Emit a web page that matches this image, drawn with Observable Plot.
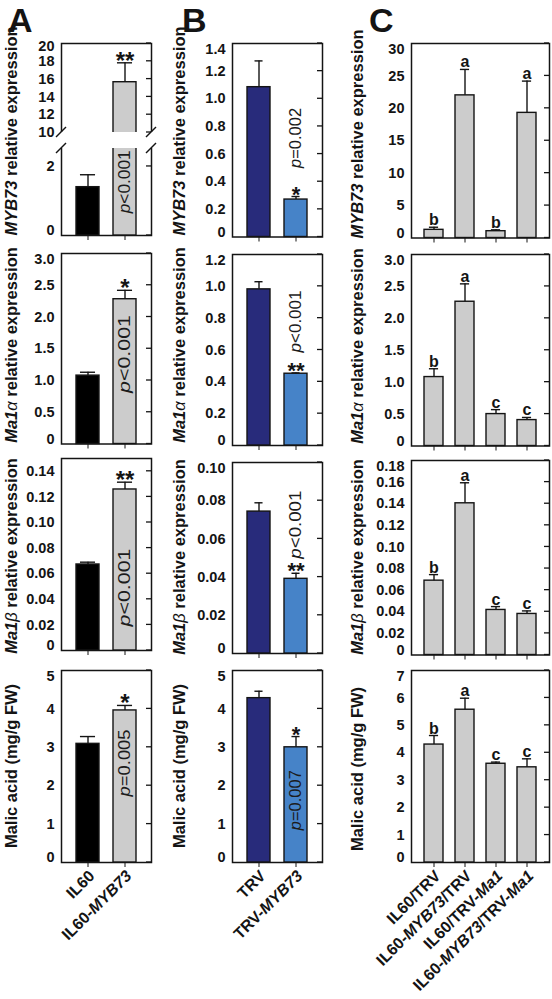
<!DOCTYPE html>
<html><head><meta charset="utf-8">
<script src="https://cdn.jsdelivr.net/npm/d3@7"></script>
<script src="https://cdn.jsdelivr.net/npm/@observablehq/plot@0.6"></script>
<style>
html,body{margin:0;padding:0;background:#fff;}
#fig{position:relative;width:552px;height:999px;overflow:hidden;background:#fff;}
#fig svg{position:absolute;}
</style></head><body><div id="fig"></div>
<script>
// ---------------- data ----------------
const groupsA = ["IL60", "IL60-MYB73"];
const groupsB = ["TRV", "TRV-MYB73"];
const groupsC = ["IL60/TRV", "IL60-MYB73/TRV", "IL60/TRV-Ma1", "IL60-MYB73/TRV-Ma1"];

const colorsA = ["#000000", "#cccccc"];
const colorsB = ["#282b7b", "#4683c8"];
const colorsC = ["#cccccc", "#cccccc", "#cccccc", "#cccccc"];

// column A (IL60 vs IL60-MYB73)
const myb73A = [1.40, 15.65],   myb73AErr = [0.36, 2.18];
const ma1aA  = [1.077, 2.28],   ma1aAErr  = [0.053, 0.14];
const ma1bA  = [0.0672, 0.1258], ma1bAErr = [0.0018, 0.0057];
const malicA = [3.09, 3.96],    malicAErr = [0.19, 0.13];
const starsA = [["", "**"], ["", "*"], ["", "**"], ["", "*"]];
const pTextA = ["p<0.001", "p<0.001", "p<0.001", "p=0.005"];
const pPosA  = [1.54, 1.41, 0.0488, 2.58];
const pLenA  = [63, 78, 78, 67];

// column B (TRV vs TRV-MYB73)
const myb73B = [1.084, 0.271],  myb73BErr = [0.19, 0.022];
const ma1aB  = [0.981, 0.451],  ma1aBErr  = [0.048, 0.005];
const ma1bB  = [0.0743, 0.0391], ma1bBErr = [0.0046, 0.0029];
const malicB = [4.28, 3.00],    malicBErr = [0.18, 0.28];
const starsB = [["", "*"], ["", "**"], ["", "**"], ["", "*"]];
const pTextB = ["p=0.002", "p<0.001", "p<0.001", "p=0.007"];
const pPosB  = [0.713, 0.776, 0.0672, 1.61];
const pLenB  = [60, 62, 68, 60];

// column C (four combinations)
const myb73C = [1.26, 22.0, 1.05, 19.3],        myb73CErr = [0.40, 4.0, 0.21, 4.9];
const ma1aC  = [1.08, 2.26, 0.50, 0.406],       ma1aCErr  = [0.13, 0.28, 0.07, 0.041];
const ma1bC  = [0.0688, 0.1404, 0.0417, 0.038], ma1bCErr  = [0.0056, 0.019, 0.0031, 0.0028];
const malicC = [4.30, 5.57, 3.60, 3.47],        malicCErr = [0.33, 0.42, 0.06, 0.31];
const lettersC = [["b", "a", "b", "a"], ["b", "a", "c", "c"], ["b", "a", "c", "c"], ["b", "a", "c", "c"]];

// y ticks
const ticksA1 = [0, 2, 10, 12, 14, 16, 18, 20];
const ticksA2 = [0, 0.5, 1, 1.5, 2, 2.5, 3];
const ticksA3 = [0, 0.02, 0.04, 0.06, 0.08, 0.10, 0.12, 0.14];
const ticksA4 = [0, 1, 2, 3, 4, 5];
const ticksB1 = [0, 0.2, 0.4, 0.6, 0.8, 1.0, 1.2, 1.4];
const ticksB2 = [0, 0.2, 0.4, 0.6, 0.8, 1.0, 1.2];
const ticksB3 = [0, 0.02, 0.04, 0.06, 0.08, 0.10];
const ticksB4 = [0, 1, 2, 3, 4, 5];
const ticksC1 = [0, 5, 10, 15, 20, 25, 30];
const ticksC2 = [0, 0.5, 1, 1.5, 2, 2.5, 3];
const ticksC3 = [0, 0.02, 0.04, 0.06, 0.08, 0.10, 0.12, 0.14, 0.16, 0.18];
const ticksC4 = [0, 1, 2, 3, 4, 5, 6, 7];
const decimals = {A: [0, 1, 2, 0], B: [1, 1, 2, 0], C: [0, 1, 2, 0]};

// broken axis of panel A1: lower segment ends at 2.52, upper starts at 10
const breakA1 = [2.52, 10];

const yLabels = ["MYB73 relative expression", "Ma1α relative expression", "Ma1β relative expression", "Malic acid (mg/g FW)"];
const panelLetters = ["A", "B", "C"];

// ---------------- layout ----------------
const FONT = "'Liberation Sans', Arial, Helvetica, sans-serif";
const INK = "#141414";
const ML = 50, MR = 6, MT = 6, MB = 6;
const fig = document.getElementById("fig");

function italicParts(s) {
  return s.split(/(MYB73|Ma1|α|β)/).filter(t => t).map(t => ({
    t, italic: /^(MYB73|Ma1|α|β)$/.test(t), normal: t === "α" || t === "β"
  }));
}
function bandCenter(scales, c) {
  const x = scales.x;
  const bw = x.bandwidth ? x.bandwidth() : 0;
  return x(c) + bw / 2;
}
function rightTicks(ticks) {
  return (index, scales, values, dims) => {
    const g = d3.create("svg:g").attr("stroke", INK).attr("stroke-width", 1.3);
    const x0 = dims.width - dims.marginRight;
    for (const t of ticks) {
      const y = scales.y(t);
      g.append("line").attr("x1", x0).attr("x2", x0 - 5).attr("y1", y).attr("y2", y);
    }
    return g.node();
  };
}
function pLabel(cat, yv, text, len) {
  return (index, scales) => {
    const x = bandCenter(scales, cat), y = scales.y(yv);
    const t = d3.create("svg:text")
      .attr("transform", `translate(${x},${y}) rotate(-90)`)
      .attr("text-anchor", "middle").attr("dy", "0.35em")
      .attr("font-size", 16.5).attr("font-weight", "normal").attr("fill", "#1c1c1c")
      .attr("textLength", len).attr("lengthAdjust", "spacingAndGlyphs");
    t.append("tspan").attr("font-style", "italic").text(text[0]);
    t.append("tspan").text(text.slice(1));
    return t.node();
  };
}
function xLabels(cats) {
  return (index, scales, values, dims) => {
    const g = d3.create("svg:g").attr("font-size", 16).attr("font-weight", "bold").attr("text-anchor", "end").attr("fill", INK);
    const yb = dims.height - dims.marginBottom;
    for (const c of cats) {
      const x = bandCenter(scales, c) + 4;
      const t = g.append("text").attr("transform", `translate(${x},${yb + 11}) rotate(-45)`).attr("dy", "0.35em");
      for (const p of italicParts(c)) t.append("tspan").attr("font-style", p.italic ? "italic" : null).text(p.t);
    }
    return g.node();
  };
}
function breakMarks(levels) {
  return (index, scales, values, dims) => {
    const g = d3.create("svg:g").attr("stroke", INK).attr("stroke-width", 1.4);
    const xs = [dims.marginLeft, dims.width - dims.marginRight];
    for (const lv of levels) {
      const y = scales.y(lv);
      for (const x of xs) g.append("line").attr("x1", x - 5).attr("y1", y + 5).attr("x2", x + 5).attr("y2", y - 5);
    }
    return g.node();
  };
}

function panel(cfg) {
  const {cats, values, errs, fills, frame: [fl, ft, fr, fb], domain, ticks, dec, padding, capHalf, sig, sigSize, sigDy} = cfg;
  const fw = fr - fl, fh = fb - ft;
  const W = fw + ML + MR, H = fh + MT + MB;
  const rows = cats.map((c, i) => ({c, v: values[i], hi: values[i] + errs[i], fill: fills[i], s: sig[i]}));
  const fmt = d => d === 0 ? "0" : d.toFixed(dec);
  const bandW = fw / (cats.length - padding + 2 * padding) * (1 - padding);
  const inset = Math.max(0, bandW / 2 - capHalf);
  const top = domain[domain.length - 1];
  // small vertical nudges of the end labels, as in the original figure
  const shifts = cfg.shifts || new Map([[0, -5], [top, 6]]);
  const axisOpts = {tickFormat: fmt, tickSize: 0, tickPadding: 7, label: null};
  const plain = ticks.filter(t => !shifts.has(t));
  const marks = [
    Plot.frame({stroke: INK, strokeWidth: 1.5}),
    Plot.barY(rows, {x: "c", y: "v", fill: "fill", stroke: INK, strokeWidth: 1.4}),
    Plot.ruleX(rows, {x: "c", y1: "v", y2: "hi", stroke: INK, strokeWidth: 1.4}),
    Plot.tickY(rows, {x: "c", y: "hi", stroke: INK, strokeWidth: 1.4, inset}),
    Plot.text(rows, {x: "c", y: "hi", text: "s", fontSize: sigSize, fontWeight: "bold", lineAnchor: "bottom", dy: sigDy, fill: INK}),
    ...(cfg.extra || []),
    Plot.axisY({...axisOpts, ticks: plain}),
    Plot.axisX({tickSize: 5, tickFormat: () => "", label: null}),
    rightTicks(ticks)
  ];
  for (const [t, dy] of shifts) if (ticks.includes(t)) marks.push(Plot.axisY({...axisOpts, ticks: [t], dy}));
  if (cfg.xlab) marks.push(xLabels(cats));
  if (cfg.p) marks.push(pLabel(cats[1], cfg.p.y, cfg.p.text, cfg.p.len));
  const svg = Plot.plot({
    width: W, height: H,
    marginLeft: ML, marginRight: MR, marginTop: MT, marginBottom: MB,
    x: {domain: cats, padding},
    y: cfg.yPix ? {type: "linear", domain, range: cfg.yPix.map(p => MT + p)} : {type: "linear", domain},
    color: {type: "identity"},
    style: `font-family: ${FONT}; font-size: 14.5px; font-weight: bold; overflow: visible; background: transparent; color: ${INK};`,
    marks
  });
  svg.style.position = "absolute";
  svg.style.left = (fl - ML) + "px";
  svg.style.top = (ft - MT) + "px";
  fig.appendChild(svg);
}

// frames [left, top, right, bottom] (pixel layout only)
const framesA = [[61, 43, 151, 235], [61, 253, 151, 443.5], [61, 458, 151, 650], [61, 670, 151, 862]];
const framesB = [[232, 43, 322, 236.5], [232, 253.5, 322, 444.5], [232, 462, 322, 653], [232, 670, 322, 862]];
const framesC = [[411, 43, 549, 237.5], [411, 254, 549, 445.5], [411, 460, 549, 654.5], [411, 670, 549, 862]];

const valsA = [myb73A, ma1aA, ma1bA, malicA], errsA = [myb73AErr, ma1aAErr, ma1bAErr, malicAErr];
const valsB = [myb73B, ma1aB, ma1bB, malicB], errsB = [myb73BErr, ma1aBErr, ma1bBErr, malicBErr];
const valsC = [myb73C, ma1aC, ma1bC, malicC], errsC = [myb73CErr, ma1aCErr, ma1bCErr, malicCErr];
const ticksA = [ticksA1, ticksA2, ticksA3, ticksA4];
const ticksB = [ticksB1, ticksB2, ticksB3, ticksB4];
const ticksC = [ticksC1, ticksC2, ticksC3, ticksC4];
const domainsA = [[0, breakA1[0], breakA1[1], 20], [0, 3], [0, 0.15], [0, 5]];
const domainsB = [[0, 1.4], [0, 1.2], [0, 0.10], [0, 5]];
const domainsC = [[0, 30], [0, 3], [0, 0.18], [0, 7]];

for (let r = 0; r < 4; r++) {
  const cfgA = {
    cats: groupsA, values: valsA[r], errs: errsA[r], fills: colorsA, frame: framesA[r],
    domain: domainsA[r], ticks: ticksA[r], dec: decimals.A[r], padding: 0.37, capHalf: 8,
    sig: starsA[r], sigSize: 24, sigDy: 6, xlab: r === 3,
    p: {y: pPosA[r], text: pTextA[r], len: pLenA[r]}
  };
  if (r === 0) {
    const h = framesA[0][3] - framesA[0][1];
    cfgA.yPix = [h, h - 87, h - 103, 0];
    cfgA.shifts = new Map([[0, -5], [20, 3]]);
    cfgA.extra = [
      Plot.rect([0], {y1: breakA1[0], y2: breakA1[1], fill: "white", insetLeft: -4, insetRight: -4}),
      breakMarks(breakA1)
    ];
  }
  panel(cfgA);
  panel({
    cats: groupsB, values: valsB[r], errs: errsB[r], fills: colorsB, frame: framesB[r],
    domain: domainsB[r], ticks: ticksB[r], dec: decimals.B[r], padding: 0.37, capHalf: 4.5,
    sig: starsB[r], sigSize: 22, sigDy: 5, xlab: r === 3,
    p: {y: pPosB[r], text: pTextB[r], len: pLenB[r]}
  });
  panel({
    cats: groupsC, values: valsC[r], errs: errsC[r], fills: colorsC, frame: framesC[r],
    domain: domainsC[r], ticks: ticksC[r], dec: decimals.C[r], padding: 0.4, capHalf: 4.5,
    sig: lettersC[r], sigSize: 16, sigDy: -2, xlab: r === 3
  });
}

// ---------------- overlay text (panel letters, y titles) ----------------
const ov = d3.select(fig).append("svg").attr("width", 552).attr("height", 999)
  .style("left", "0px").style("top", "0px")
  .attr("font-family", FONT).attr("font-weight", "bold").attr("fill", INK);
const letterX = [8, 182, 369];
panelLetters.forEach((L, i) => ov.append("text").attr("x", letterX[i]).attr("y", 32).attr("font-size", 34).text(L));

const labelX = [17, 185, 363];
const labelY = [[131, 345, 556, 766], [131, 345, 557, 766], [134, 346, 557, 769]];
for (let c = 0; c < 3; c++) {
  for (let r = 0; r < 4; r++) {
    const t = ov.append("text")
      .attr("transform", `translate(${labelX[c]},${labelY[c][r]}) rotate(-90)`)
      .attr("text-anchor", "middle").attr("font-size", 16.5);
    for (const p of italicParts(yLabels[r])) {
      t.append("tspan").attr("font-style", p.italic ? "italic" : null)
        .attr("font-weight", p.normal ? "normal" : null).text(p.t);
    }
  }
}
</script>
</body></html>
